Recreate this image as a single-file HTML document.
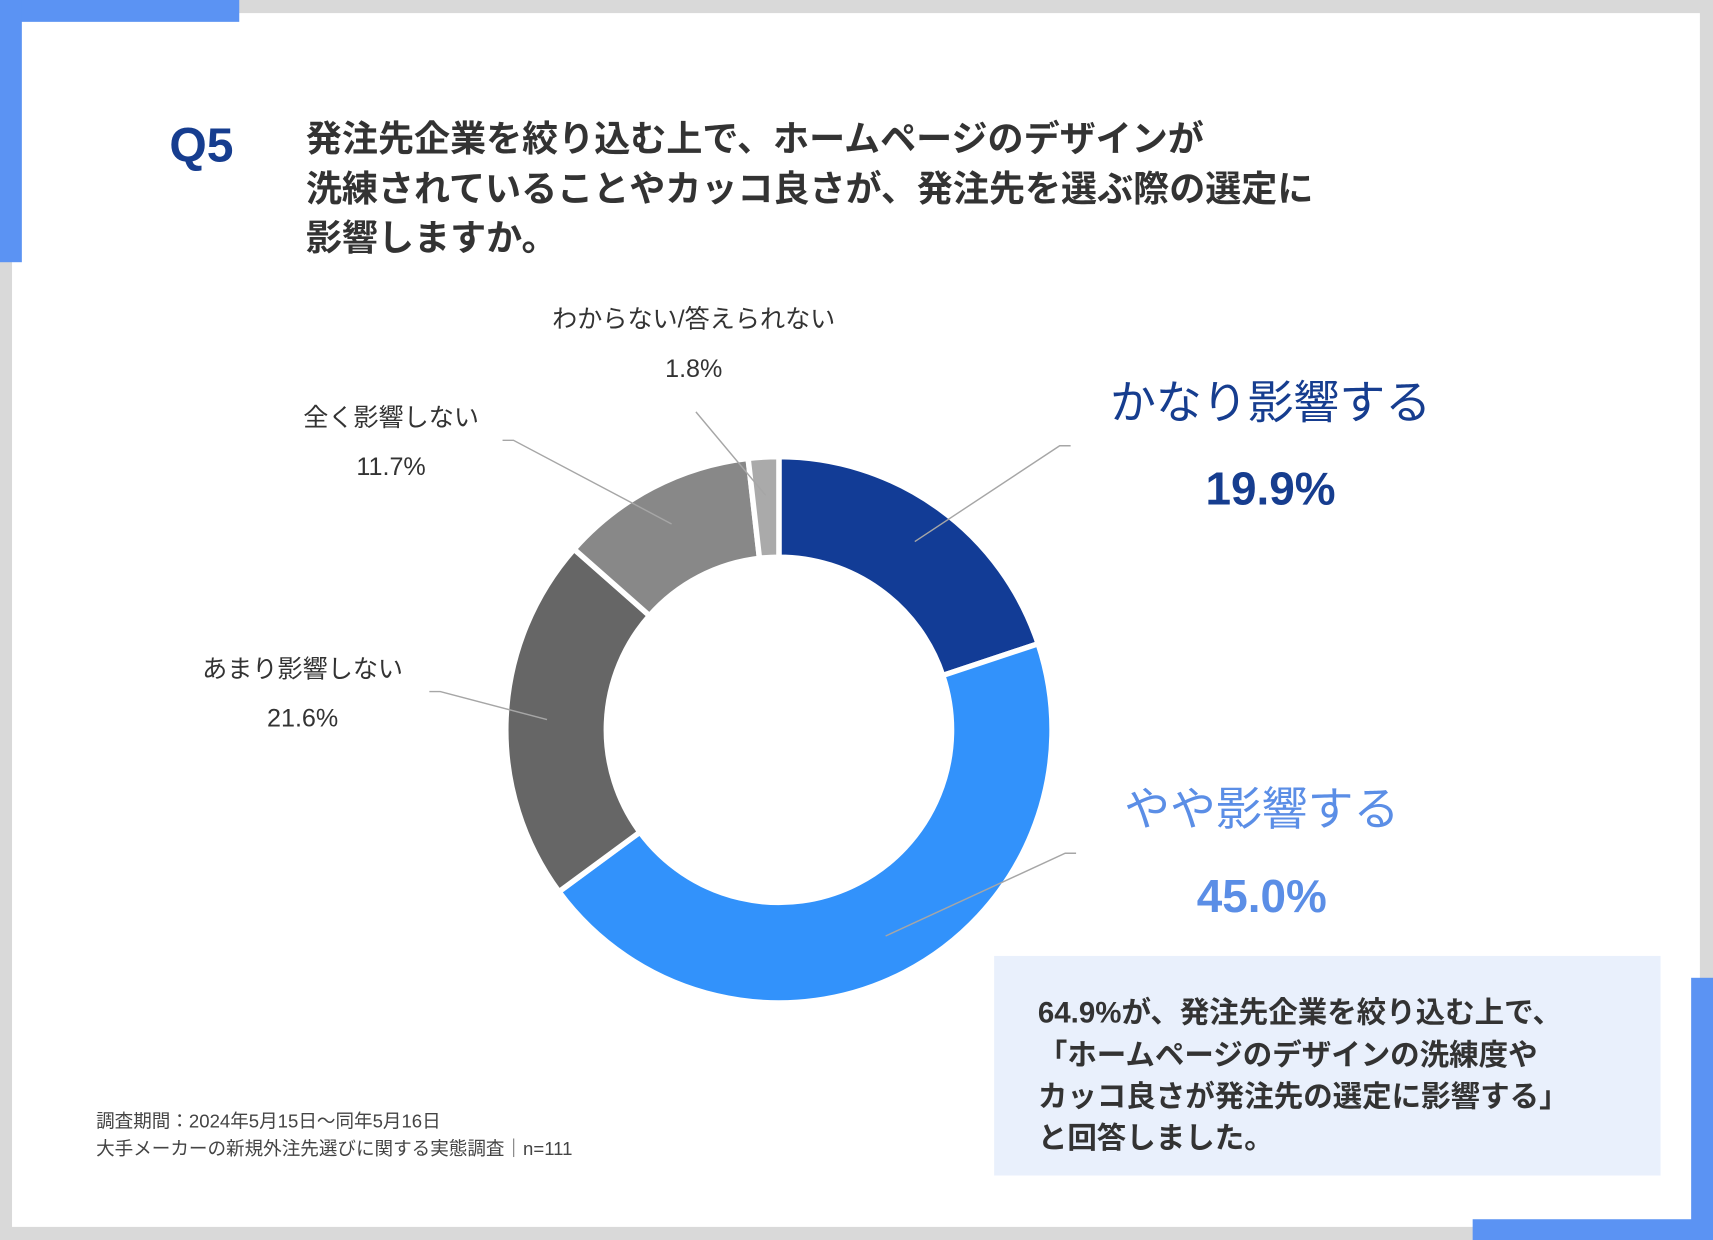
<!DOCTYPE html>
<html><head><meta charset="utf-8"><style>
html,body{margin:0;padding:0;background:#fff}
svg{display:block}
text{font-family:"Liberation Sans","Noto Sans CJK JP",sans-serif}
</style></head><body>
<svg id="chart" width="1713" height="1240" viewBox="0 0 1568 1135" preserveAspectRatio="none" xmlns="http://www.w3.org/2000/svg">
<rect x="0" y="0" width="1568" height="1135" fill="#d9d9d9"/>
<rect x="11" y="12" width="1545" height="1111" fill="#fff"/>
<rect x="0" y="0" width="219" height="20" fill="#5b93f3"/>
<rect x="0" y="0" width="20" height="240" fill="#5b93f3"/>
<rect x="1548" y="895" width="20" height="240" fill="#5b93f3"/>
<rect x="1348" y="1116" width="220" height="19" fill="#5b93f3"/>
<text x="155" y="148" font-size="44" font-weight="bold" fill="#163d8f">Q5</text>
<g font-size="33" font-weight="bold" fill="#333">
<text x="280" y="138">発注先企業を絞り込む上で、ホームページのデザインが</text>
<text x="280" y="184">洗練されていることやカッコ良さが、発注先を選ぶ際の選定に</text>
<text x="280" y="229">影響しますか。</text>
</g>
<g id="donut"></g>
<g id="labels"></g>
<rect x="910" y="875" width="610" height="201" fill="#e9f0fc"/>
<g font-size="27" font-weight="bold" fill="#333">
<text x="950" y="936">64.9%が、発注先企業を絞り込む上で、</text>
<text x="950" y="975">「ホームページのデザインの洗練度や</text>
<text x="950" y="1013">カッコ良さが発注先の選定に影響する」</text>
<text x="950" y="1051">と回答しました。</text>
</g>
<g font-size="17" fill="#444">
<text x="88" y="1032">調査期間：2024年5月15日〜同年5月16日</text>
<text x="88" y="1057">大手メーカーの新規外注先選びに関する実態調査｜n=111</text>
</g>
</svg>
<script>
const categories = ["かなり影響する","やや影響する","あまり影響しない","全く影響しない","わからない/答えられない"];
const values = [19.9, 45.0, 21.6, 11.7, 1.8];
const valueLabels = ["19.9%","45.0%","21.6%","11.7%","1.8%"];
const colors = ["#123c96","#3292fb","#666666","#888888","#aaaaaa"];
const NS="http://www.w3.org/2000/svg";
const cx=713, cy=668, R=250, r=158;
const total=values.reduce((a,b)=>a+b,0);
function angle(v){return v/total*2*Math.PI;}
function pt(a,rad){return [cx+rad*Math.sin(a), cy-rad*Math.cos(a)];}
const donut=document.getElementById('donut');
const labels=document.getElementById('labels');
let acc=0;
const mids=[];
values.forEach((v,i)=>{
  const a0=angle(acc), a1=angle(acc+v); acc+=v;
  const lg=(a1-a0)>Math.PI?1:0;
  const p0=pt(a0,R),p1=pt(a1,R),q1=pt(a1,r),q0=pt(a0,r);
  const d='M'+p0[0]+' '+p0[1]+' A'+R+' '+R+' 0 '+lg+' 1 '+p1[0]+' '+p1[1]+
          ' L'+q1[0]+' '+q1[1]+' A'+r+' '+r+' 0 '+lg+' 0 '+q0[0]+' '+q0[1]+' Z';
  const p=document.createElementNS(NS,'path');
  p.setAttribute('d',d);
  p.setAttribute('fill',colors[i]);
  p.setAttribute('stroke','#fff');
  p.setAttribute('stroke-width','5');
  p.setAttribute('stroke-linejoin','miter');
  
  
  donut.appendChild(p);
  mids.push((a0+a1)/2);
});
const lab=[
 {x:1163,y1:383,y2:462,fs:42,col:"#163d8f",bold2:true,lx:980,ly:408,rad:0.85},
 {x:1155,y1:755,y2:835,fs:42,col:"#5b8ee6",bold2:true,lx:985,ly:781,rad:0.85},
 {x:277,y1:620,y2:665,fs:23,col:"#333",lx:393,ly:633,rad:0.85},
 {x:358,y1:390,y2:435,fs:23,col:"#333",lx:460,ly:403,rad:0.85},
 {x:635,y1:300,y2:345,fs:23,col:"#333",lx:637,ly:377,rad:0.86}
];
lab.forEach((L,i)=>{
  const m=pt(mids[i],R*L.rad);
  const pl=document.createElementNS(NS,'polyline');
  const pts = i===4 ? (m[0]+','+m[1]+' '+L.lx+','+L.ly)
    : (m[0]+','+m[1]+' '+(L.lx+(L.lx>cx?-10:10))+','+L.ly+' '+L.lx+','+L.ly);
  pl.setAttribute('points',pts);
  pl.setAttribute('fill','none');pl.setAttribute('stroke','#a6a6a6');pl.setAttribute('stroke-width','1.3');
  
  
  labels.appendChild(pl);
  const t1=document.createElementNS(NS,'text');
  t1.setAttribute('x',L.x);t1.setAttribute('y',L.y1);t1.setAttribute('text-anchor','middle');
  t1.setAttribute('font-size',L.fs);t1.setAttribute('fill',L.col);
  t1.textContent=categories[i];
  
  
  labels.appendChild(t1);
  const t2=document.createElementNS(NS,'text');
  t2.setAttribute('x',L.x);t2.setAttribute('y',L.y2);t2.setAttribute('text-anchor','middle');
  t2.setAttribute('font-size',L.fs);t2.setAttribute('fill',L.col);
  if(L.bold2) t2.setAttribute('font-weight','bold');
  t2.textContent=valueLabels[i];
  
  
  labels.appendChild(t2);
});
</script>
</body></html>
